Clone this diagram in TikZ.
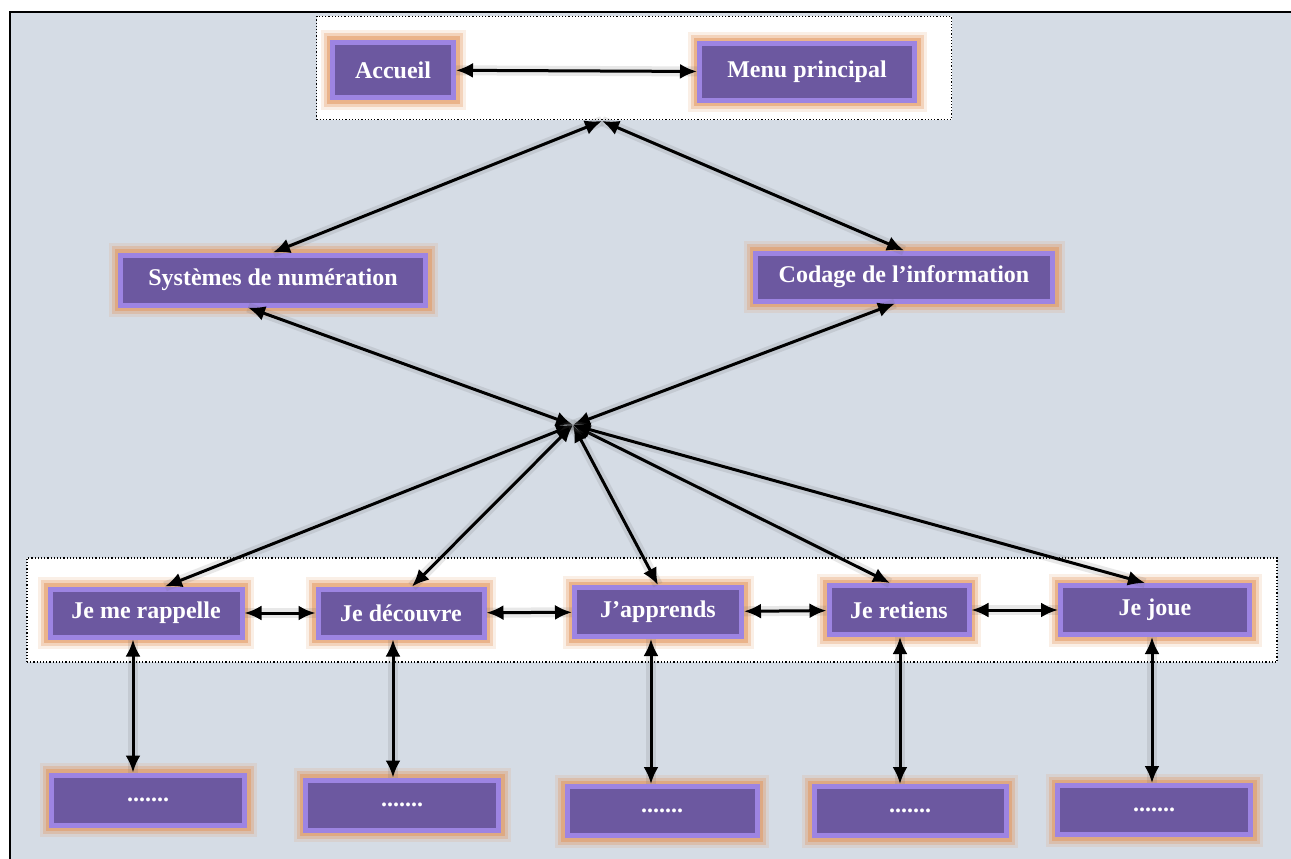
\documentclass[tikz,border=0pt]{standalone}
\usepackage{fontspec}
\setmainfont{Liberation Serif}
\usetikzlibrary{arrows.meta}
\definecolor{bgblue}{HTML}{D5DCE5}
\definecolor{boxpurple}{HTML}{6C58A0}
\definecolor{boxlilac}{HTML}{9D84E2}
\definecolor{glow}{HTML}{E3955A}
\begin{document}
\begin{tikzpicture}[x=1pt,y=-1pt,
				box node/.style = {rectangle, fill=boxpurple, draw=boxlilac, line width=5pt, text=white, inner sep=0pt,
					font=\bfseries\fontsize{24}{27}\selectfont,
					preaction={draw=glow, line width=24pt, opacity=.15},
					preaction={draw=glow, line width=18pt, opacity=.3},
					preaction={draw=glow, line width=12pt, opacity=.5}},
				group box/.style = {rectangle, draw, dotted, line width=1.2pt, fill=white, inner sep=0pt},
				link/.style = {every edge/.style = {draw, arrows={Latex[length=17pt,width=15pt]-Latex[length=17pt,width=15pt]}, line width=3pt,
					preaction={draw=black!60, line width=10pt, opacity=.15, -}}}]
				
				\useasboundingbox (0,0) rectangle (1291,859);
				\fill[bgblue] (10,12) rectangle (1291,859);
				\draw[line width=2pt] (1291,12) -- (10,12) -- (10,859);
				
				% groups
				\node[group box, minimum width=635, minimum height=103] (topgrp) at (634,68) {};
				\node[group box, minimum width=1250, minimum height=104] (lowgrp) at (652,610) {};
				
				\node[box node, minimum width=121, minimum height=55] (acc) at (393,70) {Accueil};
				\node[box node, minimum width=215, minimum height=56] (menu) at (807,72) {Menu principal};
				\node[box node, minimum width=305, minimum height=50] (sys) at (273,280) {Systèmes de numération};
				\node[box node, minimum width=297, minimum height=48] (cod) at (904,277) {Codage de l’information};
				
				\node[box node, minimum width=192, minimum height=48] (rap) at (146,613) {Je me rappelle};
				\node[box node, minimum width=166, minimum height=48] (dec) at (401,613) {Je découvre};
				\node[box node, minimum width=167, minimum height=49] (app) at (658,612) {J’apprends};
				\node[box node, minimum width=140, minimum height=49] (ret) at (899,610) {Je retiens};
				\node[box node, minimum width=189, minimum height=49] (joue) at (1155,610) {Je joue};
				
				\node[box node, minimum width=193, minimum height=50] (rapd) at (148,800) {.......};
				\node[box node, minimum width=193, minimum height=50] (decd) at (402,805) {.......};
				\node[box node, minimum width=190, minimum height=49] (appd) at (662,811) {.......};
				\node[box node, minimum width=192, minimum height=49] (retd) at (910,811) {.......};
				\node[box node, minimum width=193, minimum height=49] (joued) at (1154,810) {.......};
				
				\coordinate (topjoin) at (602,121);
				\coordinate (hub) at (573,425);
				
				\path[link]
				(acc) edge (menu)
				(topjoin) edge (sys.north)
				(topjoin) edge (cod.north)
				(hub) edge ([xshift=-25pt]sys.south)
				(hub) edge ([xshift=-9pt]cod.south)
				(hub) edge ([xshift=19pt]rap.north)
				(hub) edge ([xshift=11pt]dec.north)
				(hub) edge (app.north)
				(hub) edge ([xshift=-9pt]ret.north)
				(hub) edge ([xshift=-10pt]joue.north)
				(rap) edge (dec)
				(dec) edge (app)
				(app) edge (ret)
				(ret) edge (joue)
				([xshift=-13pt]rap.south) edge ([xshift=-15pt]rapd.north)
				([xshift=-8pt]dec.south) edge ([xshift=-9pt]decd.north)
				([xshift=-7pt]app.south) edge ([xshift=-11pt]appd.north)
				([xshift=1pt]ret.south) edge ([xshift=-10pt]retd.north)
				([xshift=-3pt]joue.south) edge ([xshift=-2pt]joued.north);
\end{tikzpicture}
\end{document}
